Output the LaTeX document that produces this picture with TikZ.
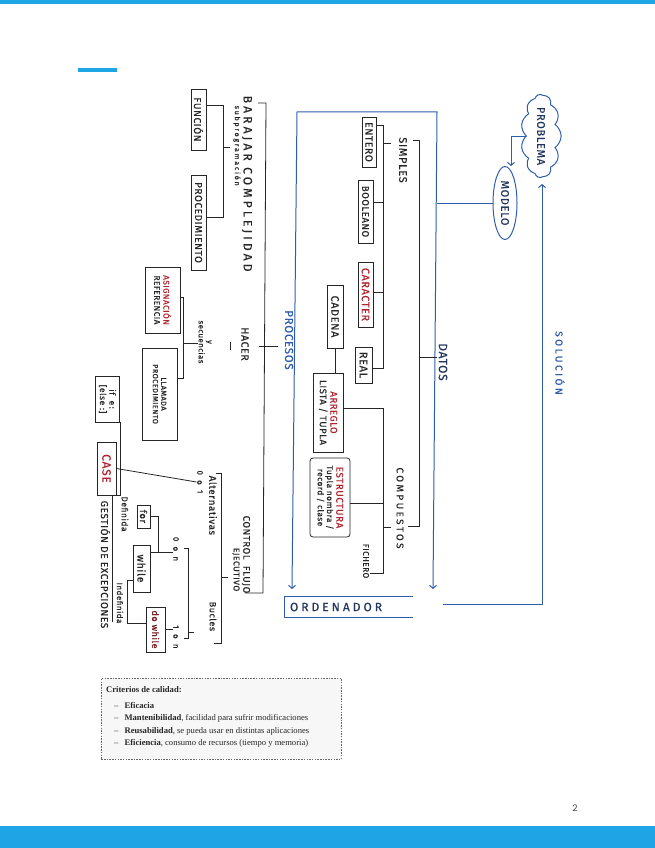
\documentclass[tikz,border=0pt]{standalone}
\usepackage{fontspec}
\setmainfont{Liberation Serif}
\newfontfamily\hf[LetterSpace=6,FakeBold=0.5]{Fira Sans}
\newfontfamily\hfw[LetterSpace=25,FakeBold=0.5]{Fira Sans}
\newfontfamily\pgfont{Poppins}
\usetikzlibrary{shapes.symbols,shapes.geometric,calc,arrows.meta}
\newcommand\hsz[1]{\fontsize{#1}{\fpeval{#1*1.12}}\selectfont}
\definecolor{ink}{HTML}{262626}
\definecolor{pen}{HTML}{2F5DAE}
\definecolor{navy}{HTML}{23365F}
\definecolor{redp}{HTML}{B0242F}
\definecolor{barc}{HTML}{1FA4E6}
\begin{document}
\begin{tikzpicture}[x=1pt,y=-1pt,
  lbl/.style={rotate=-90,inner sep=0.5pt,text=ink},
  bx/.style={lbl,draw=ink,line width=0.8pt,inner sep=1pt,align=center},
  ln/.style={draw=ink,line width=0.8pt},
  bl/.style={draw=pen,line width=1pt},
  ar/.style={-{Straight Barb[length=3pt,width=7pt]}},
  crit/.style={inner sep=0pt,font=\hsz{8.6},text=black!85}]
\useasboundingbox (0,0) rectangle (655,848);
% page decoration
\fill[barc] (0,0) rectangle (655,4);
\fill[barc] (0,826) rectangle (655,848);
\fill[barc] (78,68) rectangle (117,72);
\node[font=\pgfont\hsz{9},text=black!75] (pnum) at (575,808) {2};

% ---------- left column: procesos ----------
\node[bx,minimum width=61pt,minimum height=15pt,font=\hf\hsz{10}] (fun) at (198.5,119.5) {FUNCIÓN};
\node[bx,minimum width=95pt,minimum height=15pt,font=\hf\hsz{10}] (proc) at (198.5,222.5) {PROCEDIMIENTO};
\node[lbl,anchor=west,font=\hfw\hsz{12.2}] (bar) at (247,95) {BARAJAR COMPLEJIDAD};
\node[lbl,anchor=west,font=\hfw\hsz{7}] (subp) at (237,105) {subprogramación};
\coordinate (b1t) at (223,105); \coordinate (b1b) at (223,217); \coordinate (b1m) at (223,147);
\draw[ln] (b1t -| fun.north) -- (b1t) -- (b1b) -- (b1b -| proc.north);
\draw[ln] (b1m) -- ++(7,0);

% main bracket
\coordinate (m0) at (258,103); \coordinate (m1) at (266,103);
\coordinate (m2) at (263,593); \coordinate (m3) at (245,593);
\draw[ln] (m0) -- (m1) -- (m2) -- (m3);
\coordinate (mhl) at (259,346); \coordinate (mhr) at (278,346);
\draw[ln] (mhl) -- (mhr);
\node[lbl,font=\hf\hsz{10.5}] (hacer) at (245,344) {HACER};
\coordinate (d1) at (230,342); \coordinate (d2) at (230,350);
\draw[ln] (d1) -- (d2);
\node[lbl,align=center,font=\hf\hsz{7.8}] (ysec) at (205,342) {y\\secuencias};

\node[bx,minimum width=66pt,minimum height=35pt,font=\hf\hsz{8.2}] (asig) at (162.5,300) {\textcolor{redp}{ASIGNACIÓN}\\REFERENCIA};
\node[bx,minimum width=92pt,minimum height=35pt,font=\hf\hsz{7.4}] (llam) at (159.5,394) {LLAMADA\\PROCEDIMIENTO};
\coordinate (b3t) at (183,297); \coordinate (b3b) at (183,378); \coordinate (b3m) at (183,343);
\draw[ln] (b3t -| asig.north) -- (b3t) -- (b3b) -- (b3b -| llam.north);
\draw[ln] (b3m) -- (b3m -| ysec.south);

\node[bx,minimum width=46pt,minimum height=24pt,font=\hf\hsz{8.5}] (ifb) at (107.5,399) {if\ \ e\,:\\{[else :]}};
\node[bx,minimum width=53pt,minimum height=19pt,font=\hf\hsz{12},text=redp] (case) at (106.5,468.5) {CASE};
\draw[ln] (ifb.north east) -- (ifb.north east |- case.east) -- (case.east);
\node[lbl,font=\hf\hsz{8}] (o1) at (200,482) {0\ \ o\ \ 1};
\draw[ln] (case.north) -- (o1.south);
\coordinate (g0) at (112.5,496); \coordinate (g1) at (112.5,622);
\draw[ln] (g0) -- (g1);
\node[lbl,anchor=west,font=\hf\hsz{10}] (gest) at (105.5,500) {GESTIÓN DE EXCEPCIONES};

\node[lbl,anchor=east,font=\hf\hsz{9.6}] (cf1) at (246,594) {CONTROL\ \ FLUJO};
\node[lbl,anchor=east,font=\hf\hsz{8.5}] (cf2) at (236,592) {EJECUTIVO};
\coordinate (b4tl) at (216,473); \coordinate (b4t) at (221,473);
\coordinate (b4b) at (221,643); \coordinate (b4bl) at (214,643);
\coordinate (b4m) at (221,577); \coordinate (b4mr) at (228,577);
\draw[ln] (b4tl) -- (b4t) -- (b4b) -- (b4bl);
\draw[ln] (b4m) -- (b4mr);
\node[lbl,anchor=west,font=\hf\hsz{9.8}] (alt) at (213,475) {Alternativas};
\node[lbl,anchor=west,font=\hf\hsz{9}] (buc) at (213,601) {Bucles};

\node[bx,minimum width=23pt,minimum height=13pt,font=\hf\hsz{9.5}] (for) at (143.5,516.5) {for};
\node[bx,minimum width=47pt,minimum height=17pt,font=\hf\hsz{10.5}] (while) at (141.5,568.5) {while};
\node[bx,minimum width=45pt,minimum height=19pt,font=\hf\hsz{9},text=redp!70!black] (dowhile) at (155.5,629.5) {do while};
\node[lbl,font=\hf\hsz{8.5}] (def) at (125,514) {Definida};
\node[lbl,font=\hf\hsz{8}] (indef) at (120,603) {Indefinida};
\node[lbl,font=\hf\hsz{8}] (oon) at (176,549) {0\ \ o\ \ n};
\node[lbl,font=\hf\hsz{8}] (ion) at (176,637) {1\ \ o\ \ n};
\coordinate (j1) at (158,552);
\draw[ln] (for.north) -| (j1) -- (j1 -| oon.south);
\draw[ln] (j1) -- (j1 -| while.north);
\coordinate (j2) at (127,580); \coordinate (j3) at (127,623);
\draw[ln] (j2 -| while.south) -- (j2) -- (j3) -- (j3 -| dowhile.south);
\draw[ln] (dowhile.north) -- (dowhile.north -| ion.south);
\coordinate (b5tl) at (184,548); \coordinate (b5t) at (188,548);
\coordinate (b5b) at (188,638); \coordinate (b5bl) at (184,638);
\coordinate (b5m) at (188,632); \coordinate (b5mr) at (194,632);
\draw[ln] (b5tl) -- (b5t) -- (b5b) -- (b5bl);
\draw[ln] (b5m) -- (b5mr);

% ---------- datos ----------
\node[bx,minimum width=50pt,minimum height=14pt,font=\hf\hsz{10.3}] (entero) at (369,142) {ENTERO};
\node[bx,minimum width=63pt,minimum height=15pt,font=\hf\hsz{9.5}] (bool) at (365.5,211.5) {BOOLEANO};
\node[bx,minimum width=65pt,minimum height=15pt,font=\hf\hsz{10.8},text=redp] (car) at (365.5,294.5) {CARACTER};
\node[bx,minimum width=36pt,minimum height=17pt,font=\hf\hsz{11}] (real) at (363.5,365) {REAL};
\node[bx,minimum width=63pt,minimum height=16pt,font=\hf\hsz{10.8}] (cad) at (335,316.5) {CADENA};
\node[bx,minimum width=79pt,minimum height=30pt,font=\hf\hsz{9.5}] (arr) at (328,412.5) {\textcolor{redp}{ARREGLO}\\LISTA / TUPLA};
\node[bx,rounded corners=3pt,minimum width=79pt,minimum height=40pt,font=\hf\hsz{8.3}] (estr) at (330,497.5) {\textcolor{redp}{\hsz{9.8}ESTRUCTURA}\\Tupla nombra /\\record / clase};
\draw[ln] (cad.east) -- (cad.east |- arr.west);
\node[lbl,font=\hf\hsz{11}] (simp) at (403,160) {SIMPLES};
\node[lbl,font=\hfw\hsz{9.8}] (comp) at (400,508) {COMPUESTOS};
\node[lbl,font=\hf\hsz{8.2}] (fich) at (366,561) {FICHERO};

\coordinate (st) at (383,125); \coordinate (sb) at (383,368);
\draw[ln] (st -| entero.north) -- (st) -- (sb) -- (sb -| real.north);
\coordinate (ssimp) at (383,143); \draw[ln] (ssimp) -- ++(8,0);
\coordinate (sbool) at (383,202); \draw[ln] (sbool -| bool.north) -- (sbool);
\coordinate (scar) at (383,292); \draw[ln] (scar -| car.north) -- (scar);

\coordinate (ct) at (383,408); \coordinate (cb) at (383,573);
\draw[ln] (ct -| arr.north) -- (ct) -- (cb) -- (cb -| fich.north);
\coordinate (cestr) at (383,503); \draw[ln] (cestr -| estr.north) -- (cestr);
\coordinate (ccomp) at (383,527); \draw[ln] (ccomp) -- ++(8,0);

\coordinate (dtl) at (413,140); \coordinate (dt) at (419,140);
\coordinate (db) at (419,526); \coordinate (dbl) at (408,526);
\coordinate (dm) at (419,357);
\draw[ln] (dtl) -- (dt) -- (db) -- (dbl);

% ---------- blue frame ----------
\coordinate (btl) at (297,112); \coordinate (btr) at (437,112);
\coordinate (bbl) at (292,589); \coordinate (bbr) at (433,589);
\draw[bl,{Straight Barb[length=3pt,width=7pt]}-{Straight Barb[length=3pt,width=7pt]}] (bbl) -- (btl) -- (btr) -- (bbr);
\draw[ln] (dm) -- (dm -| btr);
\node[lbl,font=\hf\hsz{11.5},text=pen] (procesos) at (289,340) {PROCESOS};
\node[lbl,font=\hf\hsz{12},text=navy] (datos) at (443,362) {DATOS};

\node[font=\hfw\hsz{12},text=navy,text width=118pt,align=left,inner xsep=5pt,inner ysep=0pt,minimum height=20pt] (ord) at (349,607) {ORDENADOR};
\draw[bl] (ord.north east) -- (ord.north west) -- (ord.south west) -- (ord.south east);

\node[cloud,cloud puffs=11,cloud puff arc=110,aspect=2.8,draw=pen,line width=1pt,rotate=-90,minimum width=78pt,minimum height=28pt,inner sep=0pt,font=\hf\hsz{11},text=navy] (prob) at (541,136) {PROBLEMA};
\node[ellipse,draw=pen,line width=1pt,rotate=-90,minimum width=73pt,minimum height=24pt,inner sep=0pt,font=\hf\hsz{11},text=navy] (modelo) at (505,203) {MODELO};
\draw[bl,ar] (prob.south) -| ([xshift=6pt]modelo.west);
\draw[bl] (modelo.south) -- (modelo.south -| btr);
\coordinate (s0) at (443,604); \coordinate (s1) at (542,604);
\draw[bl,ar,shorten >=6pt] (s0) -- (s1) -- (s1 |- prob.east);
\node[lbl,font=\hfw\hsz{10},text=pen] (sol) at (560,363) {SOLUCIÓN};

% ---------- criterios ----------
\node[draw=black!60,line width=0.6pt,dash pattern=on 1.5pt off 1.2pt,fill=black!3,minimum width=240pt,minimum height=81pt,anchor=north west,inner sep=0pt] (critbox) at (101,678) {};
\node[crit,anchor=base west] (c0) at (106,692) {\textbf{Criterios de calidad:}};
\node[crit,anchor=base west] (c1) at (114,708) {–\hspace{6pt}\textbf{Eficacia}};
\node[crit,anchor=base west] (c2) at (114,720.5) {–\hspace{6pt}\textbf{Mantenibilidad}, facilidad para sufrir modificaciones};
\node[crit,anchor=base west] (c3) at (114,733) {–\hspace{6pt}\textbf{Reusabilidad}, se pueda usar en distintas aplicaciones};
\node[crit,anchor=base west] (c4) at (114,745.5) {–\hspace{6pt}\textbf{Eficiencia}, consumo de recursos (tiempo y memoria)};
\end{tikzpicture}
\end{document}
